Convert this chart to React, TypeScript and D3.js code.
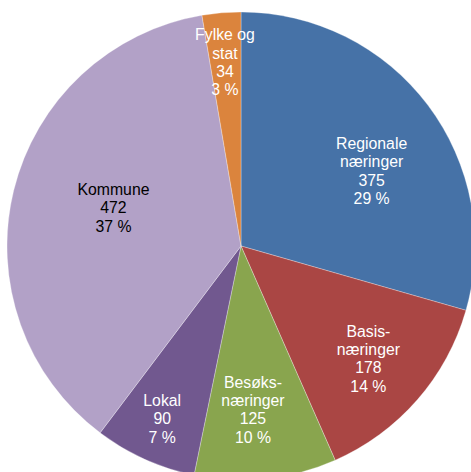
import React from "react";
import * as d3 from "d3";

const categories = ["Regionale\nnæringer", "Basis-\nnæringer", "Besøks-\nnæringer", "Lokal", "Kommune", "Fylke og\nstat"];
const values = [375, 178, 125, 90, 472, 34];
const colors = ["#4672A7", "#AA4644", "#89A54E", "#71588F", "#B2A1C7", "#DB843D"];
const labelColors = ["#ffffff", "#ffffff", "#ffffff", "#ffffff", "#000000", "#ffffff"];
// label placement: radius fraction and angle shift (degrees)
const labelRadius = [0.644, 0.727, 0.701, 0.812, 0.569, 0.788];
const labelAngleShift = [7.1, 0.4, 1.9, 0.2, 3.0, -0.2];

const W = 471;
const H = 472;
const cx = 241;
const cy = 246;
const R = 234;

export default function App() {
  const total = d3.sum(values);
  const pie = d3.pie<number>().sort(null).value((d) => d);
  const arcs = pie(values);
  const arcGen = d3.arc<d3.PieArcDatum<number>>().innerRadius(0).outerRadius(R);
  const fmtPct = (v: number) => `${Math.round((v / total) * 100)} %`;

  return (
    <svg
      width={W}
      height={H}
      style={{ position: "absolute", left: 0, top: 0, background: "#fff" }}
      fontFamily="'Liberation Sans', Arial, sans-serif"
    >
      <g transform={`translate(${cx},${cy})`}>
        {arcs.map((a, i) => (
          <path key={i} d={arcGen(a) || ""} fill={colors[i]} stroke="#fff" strokeWidth={0.3} />
        ))}
        {arcs.map((a, i) => {
          const mid = (a.startAngle + a.endAngle) / 2 + (labelAngleShift[i] * Math.PI) / 180;
          const r = labelRadius[i] * R;
          const x = Math.sin(mid) * r;
          const y = -Math.cos(mid) * r;
          const lines = [...categories[i].split("\n"), String(values[i]), fmtPct(values[i])];
          const lh = 18.3;
          const y0 = y - ((lines.length - 1) * lh) / 2;
          return (
            <text key={i} textAnchor="middle" fontSize={15.8} fill={labelColors[i]}>
              {lines.map((l, j) => (
                <tspan key={j} x={x} y={y0 + j * lh} dy="0.35em">
                  {l}
                </tspan>
              ))}
            </text>
          );
        })}
      </g>
    </svg>
  );
}
